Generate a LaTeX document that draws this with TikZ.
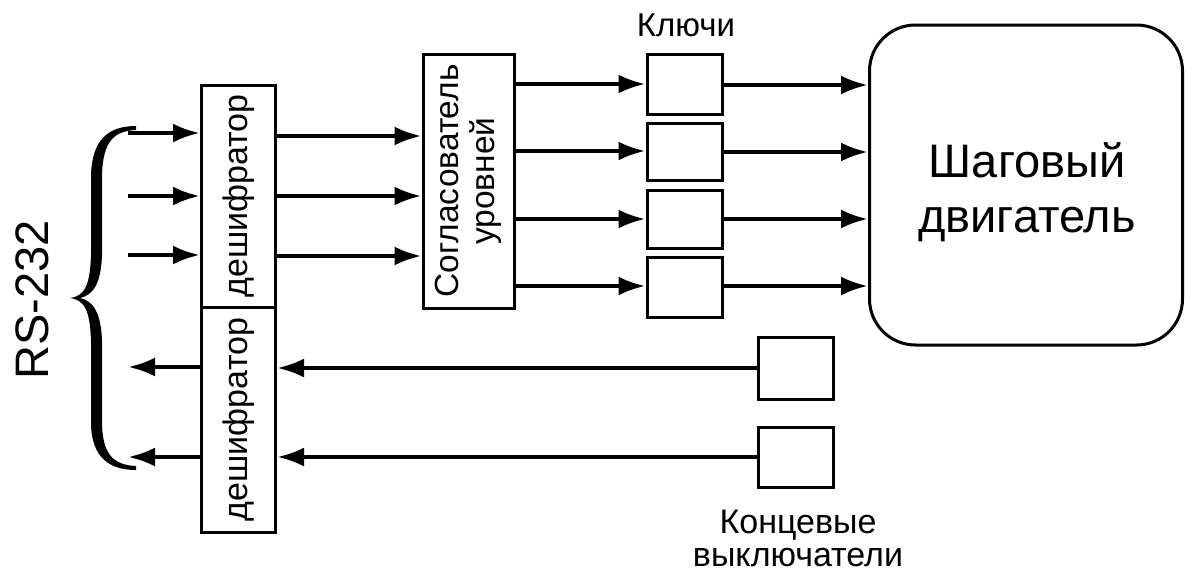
\documentclass[tikz,border=0pt]{standalone}
\usepackage{fontspec}
\setmainfont{Liberation Sans}
\usetikzlibrary{arrows.meta}
\begin{document}
\begin{tikzpicture}[x=1pt,y=-1pt,
  blk/.style={draw, line width=3pt, inner sep=0pt},
  arr/.style={line width=4.2pt, -{Latex[length=27pt,width=19pt]}},
  lbl/.style={inner sep=0pt, align=center}]
\useasboundingbox (0,0) rectangle (1185,574);
% blocks
\node[blk, minimum width=74pt, minimum height=222pt] (dec1) at (238.5,196) {};
\node[blk, minimum width=74pt, minimum height=225pt] (dec2) at (238.5,419.5) {};
\node[blk, minimum width=91pt, minimum height=254pt] (sogl) at (468.5,181) {};
\node[blk, minimum width=75pt, minimum height=60pt] (k1) at (684.5,84) {};
\node[blk, minimum width=75pt, minimum height=57pt] (k2) at (684.5,151.5) {};
\node[blk, minimum width=75pt, minimum height=58pt] (k3) at (684.5,219) {};
\node[blk, minimum width=75pt, minimum height=60pt] (k4) at (684.5,287) {};
\node[blk, minimum width=313pt, minimum height=320pt, rounded corners=46pt] (motor) at (1026,185) {};
\node[blk, minimum width=75pt, minimum height=62pt] (ls1) at (795.5,368) {};
\node[blk, minimum width=75pt, minimum height=60pt] (ls2) at (795.5,457) {};
% texts
\node[lbl, rotate=90, font=\fontsize{34}{37}\selectfont] (t1) at (dec1.center) {дешифратор};
\node[lbl, rotate=90, font=\fontsize{34}{37}\selectfont] (t2) at (dec2.center) {дешифратор};
\node[lbl, rotate=90, font=\fontsize{33.5}{36}\selectfont] (t3) at (sogl.center) {Согласователь\\уровней};
\node[lbl, font=\fontsize{47}{55}\selectfont] (t4) at (1027,192) {Шаговый\\двигатель};
\node[lbl, font=\fontsize{33}{36}\selectfont] (t5) at (686,25) {Ключи};
\node[lbl, font=\fontsize{34}{33}\selectfont] (t6) at (798,538) {Концевые\\выключатели};
\node[lbl, rotate=90, font=\fontsize{47}{50}\selectfont] (t7) at (32,300) {RS-232};
% brace
\fill (136,126) .. controls (108,126) and (92,140) .. (91,175) -- (91,255)
  .. controls (90,285) and (85,296) .. (70,298)
  .. controls (85,300) and (90,311) .. (91,341) -- (91,425)
  .. controls (92,456) and (108,470) .. (136,470) -- (136,466)
  .. controls (114,465) and (103,455) .. (102,425) -- (102,341)
  .. controls (101,312) and (93,301) .. (80,298)
  .. controls (93,295) and (101,284) .. (102,255) -- (102,175)
  .. controls (103,141) and (114,131) .. (136,130) -- cycle;
% free ends
\coordinate (i1) at (128,133);
\coordinate (i2) at (128,196);
\coordinate (i3) at (128,255);
\coordinate (o1) at (128,367);
\coordinate (o2) at (128,457);
% inputs
\draw[arr] (i1) -- (i1 -| dec1.west);
\draw[arr] (i2) -- (i2 -| dec1.west);
\draw[arr] (i3) -- (i3 -| dec1.west);
% decoder to level shifter
\draw[arr] (dec1.east |- 0,136) -- (sogl.west |- 0,136);
\draw[arr] (dec1.east |- 0,196) -- (sogl.west |- 0,196);
\draw[arr] (dec1.east |- 0,256) -- (sogl.west |- 0,256);
% level shifter to keys
\draw[arr] (sogl.east |- 0,84) -- (k1.west |- 0,84);
\draw[arr] (sogl.east |- 0,151) -- (k2.west |- 0,151);
\draw[arr] (sogl.east |- 0,219) -- (k3.west |- 0,219);
\draw[arr] (sogl.east |- 0,286) -- (k4.west |- 0,286);
% keys to motor
\draw[arr] (k1.east |- 0,85) -- (motor.west |- 0,85);
\draw[arr] (k2.east |- 0,152) -- (motor.west |- 0,152);
\draw[arr] (k3.east |- 0,219) -- (motor.west |- 0,219);
\draw[arr] (k4.east |- 0,286) -- (motor.west |- 0,286);
% limit switches to decoder
\draw[arr] (ls1.west) -- (dec2.east |- ls1.west);
\draw[arr] (ls2.west) -- (dec2.east |- ls2.west);
% decoder outputs
\draw[arr] (dec2.west |- o1) -- (o1);
\draw[arr] (dec2.west |- o2) -- (o2);
\end{tikzpicture}
\end{document}
